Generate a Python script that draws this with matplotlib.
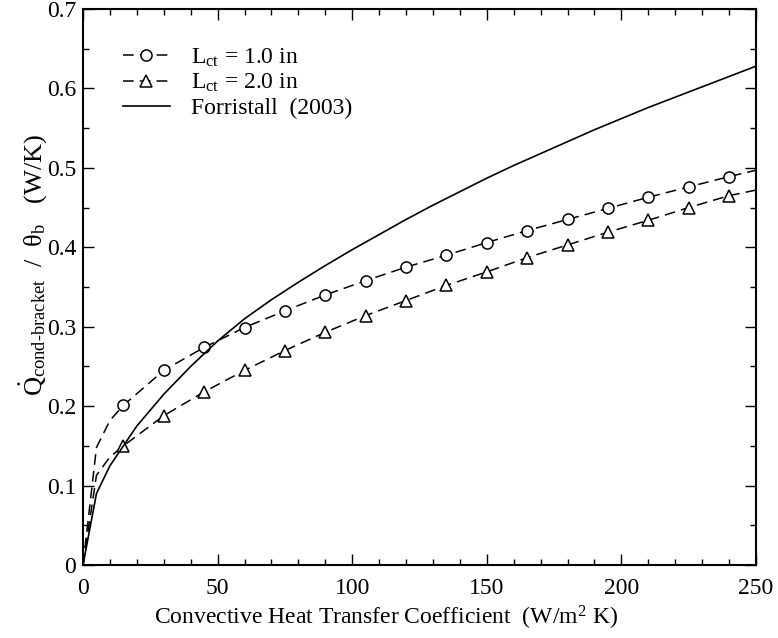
import matplotlib
matplotlib.use("Agg")
import matplotlib.pyplot as plt
from matplotlib.ticker import MultipleLocator

plt.rcParams['font.family'] = ['Liberation Serif', 'DejaVu Serif']
plt.rcParams['mathtext.fontset'] = 'custom'
plt.rcParams['mathtext.rm'] = 'Liberation Serif'
plt.rcParams['mathtext.it'] = 'Liberation Serif:italic'

# L_ct = 1.0 in
h1 = [0, 5, 10, 15, 30, 45, 60, 75, 90, 105, 120, 135, 150, 165, 180, 195, 210, 225, 240, 250]
q1 = [0, 0.148, 0.182, 0.201, 0.245, 0.274, 0.299, 0.320, 0.340, 0.358, 0.375, 0.390, 0.406,
      0.421, 0.435, 0.449, 0.463, 0.476, 0.489, 0.497]

# L_ct = 2.0 in
h2 = [0, 5, 10, 15, 30, 45, 60, 75, 90, 105, 120, 135, 150, 165, 180, 195, 210, 225, 240, 250]
q2 = [0, 0.113, 0.136, 0.150, 0.188, 0.218, 0.245, 0.270, 0.293, 0.314, 0.333, 0.352, 0.369,
      0.387, 0.403, 0.419, 0.434, 0.450, 0.465, 0.472]

# Forristall (2003)
hf = [0, 5, 10, 15, 20, 30, 40, 50, 60, 70, 80, 90, 100, 110, 120, 130, 140, 150, 160, 170,
      180, 190, 200, 210, 220, 230, 240, 250]
qf = [0, 0.090, 0.125, 0.150, 0.175, 0.215, 0.250, 0.282, 0.310, 0.334, 0.356, 0.377, 0.397,
      0.416, 0.435, 0.453, 0.470, 0.487, 0.503, 0.518, 0.533, 0.548, 0.562, 0.576, 0.589,
      0.602, 0.615, 0.628]

fig = plt.figure(figsize=(7.78, 6.38), dpi=100)
ax = fig.add_axes([0.1067, 0.1144, 0.865, 0.8715])

dash = (0, (7, 4))
mark = [i for i, h in enumerate(h1) if h > 0 and h % 15 == 0]
ax.plot(h1, q1, color='k', lw=1.1, linestyle=dash, marker='o', markevery=mark,
        markersize=8, markerfacecolor='white', markeredgewidth=1.1,
        label=r'L$_{\mathrm{ct}}$ = 1.0 in')
ax.plot(h2, q2, color='k', lw=1.1, linestyle=dash, marker='^', markevery=mark,
        markersize=8.5, markerfacecolor='white', markeredgewidth=1.1,
        label=r'L$_{\mathrm{ct}}$ = 2.0 in')
ax.plot(hf, qf, color='k', lw=1.2, label='Forristall  (2003)')

ax.set_xlim(0, 250)
ax.set_ylim(0, 0.7)
ax.xaxis.set_major_locator(MultipleLocator(50))
ax.xaxis.set_minor_locator(MultipleLocator(10))
ax.yaxis.set_major_locator(MultipleLocator(0.1))
ax.yaxis.set_minor_locator(MultipleLocator(0.05))
ax.yaxis.set_major_formatter(plt.FuncFormatter(lambda v, p: '0' if v == 0 else f'{v:.1f}'))
ax.tick_params(which='both', direction='in', top=True, right=True, labelsize=17)
ax.tick_params(which='major', length=8, width=1)
ax.tick_params(which='minor', length=4, width=1)
ax.tick_params(axis='x', pad=9)
ax.tick_params(axis='y', pad=5)
for s in ax.spines.values():
    s.set_linewidth(1.5)

ax.set_xlabel(r'Convective Heat Transfer Coefficient  (W/m$^{2}$ K)', fontsize=17)
ax.xaxis.set_label_coords(0.45, -0.07)
ax.set_ylabel(r'$\dot{\mathrm{Q}}_{\mathrm{cond\text{-}bracket}}$  /  $\mathrm{\theta_{b}}$   (W/K)',
              fontsize=19)
ax.yaxis.set_label_coords(-0.05, 0.54)

ax.legend(loc='upper left', bbox_to_anchor=(0.045, 0.95), borderaxespad=0, frameon=False,
          fontsize=17, handlelength=2.0, handletextpad=0.9, labelspacing=0.15)

fig.savefig('out.png', dpi=100)
